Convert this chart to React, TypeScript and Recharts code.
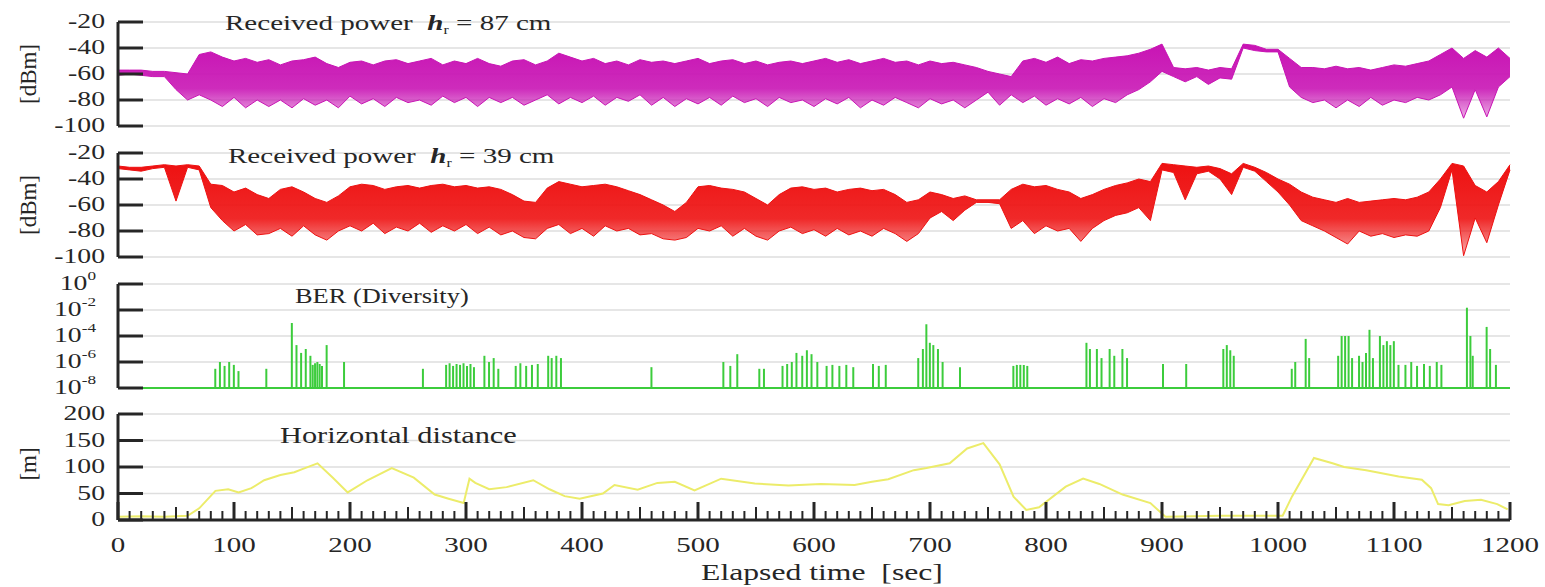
import React from "react";
import {
  ComposedChart,
  Area,
  Line,
  Bar,
  XAxis,
  YAxis,
  CartesianGrid,
  ReferenceLine,
} from "recharts";

const FONT = '"Liberation Serif", "Times New Roman", serif';
const INK = "#262626";
const GRID = "#dedede";
const MAGENTA = "#c814b4";
const RED = "#ee1111";
const GREEN = "#3ccc3c";
const YELLOW = "#ecec6a";
const STRETCH = 1.32; // the scanned figure is wider than it is tall

const W = 1545;
const PLOT_RIGHT = 1510;
const TOP_PAD = 22;

// sample times of the power traces [sec]
const sampleTimes = Array.from({ length: 121 }, (_, i) => i * 10);

// received power, h = 87 cm: top / bottom of the fading band [dBm]
const p87Hi = [
  -57, -57, -57, -58, -58, -59, -60, -45, -43, -47,
  -50, -48, -51, -49, -53, -50, -49, -47, -52, -55,
  -51, -50, -53, -50, -49, -52, -50, -48, -53, -50,
  -52, -48, -52, -54, -50, -49, -53, -50, -44, -47,
  -50, -48, -52, -50, -53, -49, -51, -50, -52, -50,
  -48, -52, -50, -49, -52, -50, -53, -51, -50, -52,
  -50, -48, -51, -49, -52, -50, -48, -51, -50, -53,
  -50, -52, -51, -53, -55, -58, -60, -62, -50, -48,
  -51, -47, -52, -49, -50, -48, -47, -46, -44, -41,
  -37, -55, -56, -55, -57, -55, -56, -37, -38, -41,
  -41, -48, -55, -55, -56, -54, -56, -55, -57, -55,
  -53, -54, -52, -50, -45, -40, -48, -42, -47, -40,
  -48,
];
const p87Lo = [
  -61, -60, -61, -62, -62, -72, -80, -76, -80, -85,
  -78, -86, -80, -85, -80, -86, -79, -84, -80, -86,
  -77, -83, -79, -85, -78, -82, -80, -84, -77, -82,
  -78, -85, -78, -82, -78, -84, -80, -76, -83, -78,
  -82, -77, -84, -78, -81, -76, -84, -78, -85, -79,
  -83, -78, -84, -77, -82, -79, -85, -78, -82, -80,
  -85, -79, -83, -78, -86, -80, -84, -78, -82, -86,
  -79, -83, -80, -86, -80, -74, -84, -76, -82, -77,
  -84, -79, -83, -78, -85, -79, -82, -76, -72, -66,
  -58, -62, -66, -62, -68, -63, -64, -40, -42, -43,
  -43, -70, -78, -82, -80, -86, -80, -85, -78, -84,
  -80, -82, -78, -80, -76, -70, -94, -72, -93, -70,
  -62,
];

// received power, h = 39 cm: top / bottom of the fading band [dBm]
const p39Hi = [
  -30, -31, -31, -30, -29, -30, -29, -30, -44, -45,
  -50, -47, -52, -55, -48, -46, -50, -55, -58, -53,
  -46, -44, -45, -48, -46, -45, -47, -45, -44, -46,
  -45, -47, -46, -48, -52, -57, -58, -47, -42, -44,
  -46, -45, -44, -46, -49, -52, -56, -60, -65, -58,
  -46, -45, -47, -48, -50, -55, -60, -52, -47, -46,
  -48, -47, -50, -48, -47, -49, -48, -52, -58, -56,
  -50, -52, -55, -53, -56, -56, -56, -48, -44, -46,
  -45, -48, -50, -55, -52, -48, -45, -43, -40, -42,
  -28, -29, -30, -31, -30, -32, -36, -28, -31, -35,
  -40, -44, -50, -54, -56, -58, -55, -58, -57, -56,
  -55, -56, -54, -50, -40, -28, -30, -45, -50, -42,
  -29,
];
const p39Lo = [
  -32, -33, -34, -32, -31, -57, -31, -33, -62, -72,
  -80, -75, -83, -82, -78, -84, -76, -83, -87, -80,
  -76, -80, -74, -82, -77, -80, -74, -81, -76, -80,
  -75, -82, -77, -83, -80, -85, -86, -78, -75, -82,
  -78, -84, -76, -80, -78, -83, -82, -86, -87, -85,
  -78, -80, -76, -84, -78, -84, -87, -80, -77, -82,
  -79, -84, -78, -83, -80, -84, -78, -82, -88, -82,
  -70, -65, -72, -64, -58, -58, -59, -78, -72, -82,
  -76, -80, -78, -88, -78, -72, -68, -66, -62, -72,
  -33, -35, -56, -36, -34, -40, -52, -31, -34, -42,
  -50, -60, -72, -76, -80, -85, -90, -80, -84, -82,
  -85, -83, -84, -80, -62, -33, -99, -70, -89, -60,
  -33,
];

// BER (diversity): error bursts [sec] and their level
const berTimes = [
  84, 88, 92, 96, 100, 104, 128, 150, 154, 158, 162, 166, 168, 170, 172, 174, 176, 180, 195,
  263, 283, 286, 289, 292, 295, 298, 301, 304, 307, 316, 320, 324, 328, 343, 347, 352, 357, 362,
  371, 374, 378, 382, 460, 522, 528, 534, 553, 557, 573, 577, 581, 585, 590, 594, 598, 603,
  611, 616, 622, 628, 634, 651, 656, 662, 690, 694, 697, 700, 703, 707, 711, 726,
  772, 775, 778, 781, 784, 835, 838, 844, 848, 855, 859, 866, 870, 901, 921, 953, 956, 959, 962,
  1012, 1015, 1024, 1027, 1052, 1055, 1058, 1061, 1064, 1070, 1073, 1076, 1079, 1082, 1088, 1091,
  1094, 1097, 1100, 1104, 1110, 1115, 1120, 1126, 1131, 1137, 1141, 1163, 1166, 1168, 1180, 1183, 1188,
];
const berValues = [
  3e-7, 1e-6, 5e-7, 1e-6, 6e-7, 2e-7, 3e-7, 1e-3, 2e-5, 5e-6, 1e-5, 3e-6, 6e-7, 8e-7, 1e-6, 7e-7, 5e-7, 2e-5, 1e-6,
  3e-7, 6e-7, 8e-7, 5e-7, 7e-7, 6e-7, 8e-7, 5e-7, 7e-7, 4e-7, 3e-6, 1e-6, 2e-6, 3e-7, 5e-7, 8e-7, 5e-7, 6e-7, 7e-7,
  3e-6, 2e-6, 3e-6, 2e-6, 4e-7, 1e-6, 5e-7, 4e-6, 3e-7, 3e-7, 5e-7, 7e-7, 1e-6, 5e-6, 3e-6, 8e-6, 4e-6, 1e-6,
  5e-7, 6e-7, 5e-7, 6e-7, 4e-7, 7e-7, 5e-7, 6e-7, 2e-6, 1e-5, 8e-4, 3e-5, 2e-5, 1e-5, 1e-6, 4e-7,
  5e-7, 6e-7, 6e-7, 6e-7, 5e-7, 3e-5, 1e-5, 1e-5, 2e-6, 1e-5, 3e-6, 1e-5, 2e-6, 7e-7, 7e-7, 1e-5, 2e-5, 8e-6, 3e-6,
  3e-7, 1e-6, 6e-5, 2e-6, 3e-6, 1e-4, 1e-4, 1e-4, 2e-6, 3e-6, 1e-6, 5e-6, 3e-4, 2e-6, 1e-4, 2e-5,
  4e-5, 2e-5, 4e-5, 6e-7, 6e-7, 1e-6, 5e-7, 7e-7, 5e-7, 1e-6, 6e-7, 1.5e-2, 1e-4, 3e-6, 5e-4, 1e-5, 6e-7,
];

// horizontal distance [m]
const distTimes = [
  0, 20, 40, 60, 70, 84, 95, 104, 115, 126, 140, 152, 160, 172, 185, 198, 215, 236, 255, 273,
  285, 298, 303, 308, 320, 335, 358, 372, 385, 398, 418, 428, 448, 465, 480, 497, 520, 549, 578, 606,
  635, 650, 664, 686, 697, 717, 732, 746, 760, 772, 783, 794, 817, 832, 846, 866, 890, 903, 950, 1004,
  1012, 1031, 1047, 1057, 1076, 1104, 1124, 1132, 1138, 1147, 1161, 1175, 1189, 1198,
];
const distValues = [
  6, 7, 6, 8, 22, 55, 58, 52, 60, 75, 85, 90, 97, 107, 80, 52, 75, 98, 80, 48,
  40, 32, 78, 70, 58, 62, 75, 58, 45, 40, 50, 66, 57, 70, 72, 56, 78, 69, 65, 68,
  66, 72, 77, 94, 98, 107, 135, 145, 105, 44, 19, 24, 63, 78, 68, 48, 32, 6, 8, 8,
  44, 117, 107, 100, 94, 82, 76, 60, 30, 28, 36, 38, 30, 20,
];

const dbTicks = [-20, -40, -60, -80, -100];
const berTicks = [1, 1e-2, 1e-4, 1e-6, 1e-8];
const distTicks = [0, 50, 100, 150, 200];
const xLabelTicks = [0, 100, 200, 300, 400, 500, 600, 700, 800, 900, 1000, 1100, 1200];
const xMinorStep = 10;
const xTicks = Array.from({ length: 1200 / xMinorStep + 1 }, (_, i) => i * xMinorStep);

const power87 = sampleTimes.map((t, i) => ({ t, band: [p87Lo[i], p87Hi[i]] }));
const power39 = sampleTimes.map((t, i) => ({ t, band: [p39Lo[i], p39Hi[i]] }));
const berData = berTimes.map((t, i) => ({ t, ber: berValues[i] }));
const distData = distTimes.map((t, i) => ({ t, dist: distValues[i] }));

const txt = { fontFamily: FONT, fill: INK };

// y tick: inward tick mark plus a right-aligned label
function LeftTick({ x, y, payload, log }: any) {
  const v = payload.value;
  const exp = Math.round(Math.log10(v));
  return (
    <g>
      <line x1={x} x2={x + 25} y1={y} y2={y} stroke={INK} strokeWidth={3} />
      {log ? (
        <text transform={`translate(${x - 22} ${y + 6}) scale(${STRETCH} 1)`} textAnchor="end" fontSize={21} {...txt}>
          10
          <tspan dy={-10} fontSize={13}>
            {exp === 0 ? "0" : `-${-exp}`}
          </tspan>
        </text>
      ) : (
        <text transform={`translate(${x - 13} ${y + 6}) scale(${STRETCH} 1)`} textAnchor="end" fontSize={21} {...txt}>
          {v}
        </text>
      )}
    </g>
  );
}

function BottomTick({ x, y, payload }: any) {
  const v = payload.value;
  const major = xLabelTicks.includes(v);
  const len = major ? 18 : v % 50 === 0 ? 13 : 9;
  return (
    <g>
      <line x1={x} x2={x} y1={y} y2={y - len} stroke={INK} strokeWidth={major ? 3 : 2} />
      {major && (
        <text transform={`translate(${x} ${y + 32}) scale(${STRETCH} 1)`} textAnchor="middle" fontSize={22} {...txt}>
          {v}
        </text>
      )}
    </g>
  );
}

const yAxisCommon = {
  width: 108,
  axisLine: { stroke: INK, strokeWidth: 3 },
  tickLine: false,
  tickSize: 0,
  tickMargin: 0,
  interval: 0 as const,
};

const margin = (bottom: number) => ({ top: TOP_PAD, right: W - PLOT_RIGHT, bottom, left: 10 });

function PowerPanel({ data, color, id }: { data: any[]; color: string; id: string }) {
  return (
    <ComposedChart width={W} height={104 + TOP_PAD + 12} data={data} margin={margin(12)}>
      <defs>
        <linearGradient id={id} x1="0" y1="0" x2="0" y2="1">
          <stop offset="0%" stopColor={color} stopOpacity={1} />
          <stop offset="60%" stopColor={color} stopOpacity={0.9} />
          <stop offset="100%" stopColor={color} stopOpacity={0.35} />
        </linearGradient>
      </defs>
      <CartesianGrid vertical={false} stroke={GRID} strokeWidth={1.5} />
      <XAxis type="number" dataKey="t" domain={[0, 1200]} hide height={0} />
      <YAxis
        type="number"
        domain={[-100, -20]}
        ticks={dbTicks}
        {...yAxisCommon}
        tick={(p: any) => <LeftTick {...p} />}
      />
      <Area
        type="linear"
        dataKey="band"
        stroke={color}
        strokeWidth={1}
        fill={`url(#${id})`}
        fillOpacity={1}
        dot={false}
        activeDot={false}
        isAnimationActive={false}
      />
    </ComposedChart>
  );
}

export default function App() {
  return (
    <div style={{ position: "absolute", left: 0, top: 0, width: W, height: 587, background: "#fff" }}>
      <div style={{ position: "absolute", left: 0, top: 22 - TOP_PAD }}>
        <PowerPanel data={power87} color={MAGENTA} id="fade87" />
      </div>
      <div style={{ position: "absolute", left: 0, top: 153 - TOP_PAD }}>
        <PowerPanel data={power39} color={RED} id="fade39" />
      </div>
      <div style={{ position: "absolute", left: 0, top: 284 - TOP_PAD }}>
        <ComposedChart width={W} height={104 + TOP_PAD + 12} data={berData} margin={margin(12)}>
          <CartesianGrid vertical={false} stroke={GRID} strokeWidth={1.5} />
          <XAxis type="number" dataKey="t" domain={[0, 1200]} hide height={0} />
          <YAxis
            type="number"
            scale="log"
            domain={[1e-8, 1]}
            allowDataOverflow
            ticks={berTicks}
            {...yAxisCommon}
            tick={(p: any) => <LeftTick {...p} log />}
          />
          <ReferenceLine y={1e-8} stroke={GREEN} strokeWidth={2} />
          <Bar dataKey="ber" fill={GREEN} barSize={2} isAnimationActive={false} />
        </ComposedChart>
      </div>
      <div style={{ position: "absolute", left: 0, top: 414 - TOP_PAD }}>
        <ComposedChart width={W} height={106 + TOP_PAD + 60} data={distData} margin={margin(0)}>
          <CartesianGrid vertical={false} stroke={GRID} strokeWidth={1.5} />
          <XAxis
            type="number"
            dataKey="t"
            domain={[0, 1200]}
            ticks={xTicks}
            interval={0}
            height={60}
            axisLine={{ stroke: INK, strokeWidth: 3 }}
            tickLine={false}
            tickSize={0}
            tickMargin={0}
            tick={(p: any) => <BottomTick {...p} />}
          />
          <YAxis type="number" domain={[0, 200]} ticks={distTicks} {...yAxisCommon} tick={(p: any) => <LeftTick {...p} />} />
          <Line
            type="linear"
            dataKey="dist"
            stroke={YELLOW}
            strokeWidth={2}
            dot={false}
            activeDot={false}
            isAnimationActive={false}
          />
        </ComposedChart>
      </div>
      <svg
        width={W}
        height={587}
        style={{ position: "absolute", left: 0, top: 0, pointerEvents: "none" }}
        fontFamily={FONT}
      >
        <text transform={`translate(225 30) scale(${STRETCH} 1)`} fontSize={22} fill={INK} xmlSpace="preserve">
          {"Received power  "}
          <tspan fontStyle="italic" fontWeight="bold">h</tspan>
          <tspan dy={4} fontSize={12}>r</tspan>
          <tspan dy={-4}>{" = 87 cm"}</tspan>
        </text>
        <text transform={`translate(228 163) scale(${STRETCH} 1)`} fontSize={22} fill={INK} xmlSpace="preserve">
          {"Received power  "}
          <tspan fontStyle="italic" fontWeight="bold">h</tspan>
          <tspan dy={4} fontSize={12}>r</tspan>
          <tspan dy={-4}>{" = 39 cm"}</tspan>
        </text>
        <text transform={`translate(295 303) scale(${STRETCH} 1)`} fontSize={20} fill={INK}>
          BER (Diversity)
        </text>
        <text transform={`translate(280 443) scale(${STRETCH} 1)`} fontSize={23} fill={INK}>
          Horizontal distance
        </text>
        <text transform="translate(36 74) rotate(-90)" textAnchor="middle" fontSize={23} fill={INK}>
          [dBm]
        </text>
        <text transform="translate(36 205) rotate(-90)" textAnchor="middle" fontSize={23} fill={INK}>
          [dBm]
        </text>
        <text transform="translate(36 464) rotate(-90)" textAnchor="middle" fontSize={23} fill={INK}>
          [m]
        </text>
        <text transform={`translate(822 580) scale(${STRETCH} 1)`} textAnchor="middle" fontSize={24} fill={INK} xmlSpace="preserve">
          {"Elapsed time  [sec]"}
        </text>
      </svg>
    </div>
  );
}
